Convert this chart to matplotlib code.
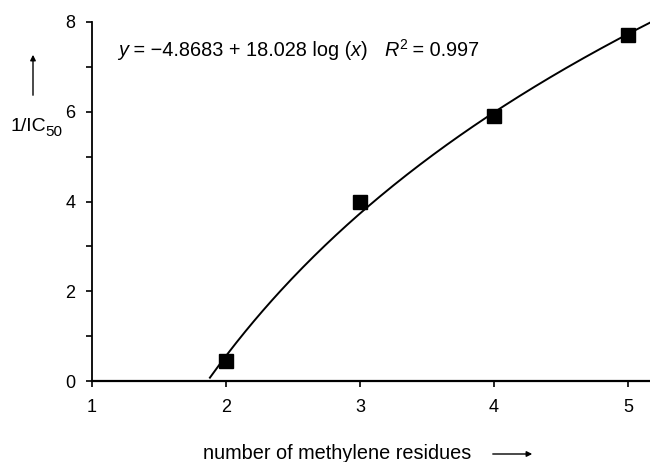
import matplotlib
matplotlib.use("Agg")
import matplotlib.pyplot as plt
from matplotlib.patches import FancyArrowPatch
import numpy as np

plt.rcParams['font.family'] = ['Liberation Sans', 'DejaVu Sans']

# data
x_points = [2, 3, 4, 5]
y_points = [0.45, 4.0, 5.9, 7.7]
fit_intercept = -4.8683
fit_slope = 18.028
fit_r2 = 0.997
x_ticks = [1, 2, 3, 4, 5]
y_ticks = [0, 2, 4, 6, 8]
y_minor = [1, 3, 5, 7]

W, H = 650, 462
fig = plt.figure(figsize=(6.5, 4.62), dpi=100)
ax = fig.add_axes([92 / W, 1 - 381 / H, 1 - 92 / W, (381 - 22) / H])
ax.set_xlim(1, 1 + (650 - 92) / 134.0)
ax.set_ylim(0, 8)

xf = np.linspace(1.88, 1 + (650 - 92) / 134.0, 200)
yf = fit_intercept + fit_slope * np.log10(xf)
ax.plot(xf, yf, color='black', lw=1.4, clip_on=False)
ax.plot(x_points, y_points, 's', color='black', ms=10.5, clip_on=False, zorder=5)

for s in ['top', 'right']:
    ax.spines[s].set_visible(False)
ax.spines['left'].set_linewidth(1.3)
ax.spines['bottom'].set_linewidth(1.6)

ax.set_xticks(x_ticks)
ax.set_yticks(y_ticks)
ax.set_yticks(y_minor, minor=True)
ax.tick_params(axis='both', labelsize=13, width=1.2, length=4, direction='out')
ax.tick_params(axis='y', which='minor', width=1.2, length=4)
ax.tick_params(axis='x', pad=9)
ax.tick_params(axis='y', pad=8)

renderer = fig.canvas.get_renderer()


def chain(pieces, x0, y0):
    x = x0
    for txt, style, size, dy in pieces:
        t = fig.text(x / W, 1 - (y0 + dy) / H, txt, fontsize=size, style=style,
                     ha='left', va='baseline')
        bb = t.get_window_extent(renderer)
        x = bb.x1
    return x


eq_pieces = [
    ('y', 'italic', 14.3, 0),
    (' = \u22124.8683 + 18.028 log (', 'normal', 14.3, 0),
    ('x', 'italic', 14.3, 0),
    (')   ', 'normal', 14.3, 0),
    ('R', 'italic', 14.3, 0),
    ('2', 'normal', 10, -7),
    (' = %.3f' % fit_r2, 'normal', 14.3, 0),
]
chain(eq_pieces, 118, 56)

chain([('1/IC', 'normal', 14, 0), ('50', 'normal', 11, 5)], 10, 131)
fig.add_artist(FancyArrowPatch((33 / W, 1 - 98 / H), (33 / W, 1 - 52 / H),
               transform=fig.transFigure, arrowstyle='-|>', mutation_scale=8,
               color='black', lw=1.0))

fig.text(203 / W, 1 - 459 / H, 'number of methylene residues', fontsize=14.3,
         ha='left', va='baseline')
fig.add_artist(FancyArrowPatch((490 / W, 1 - 454 / H), (535 / W, 1 - 454 / H),
               transform=fig.transFigure, arrowstyle='-|>', mutation_scale=8,
               color='black', lw=1.0))

fig.savefig('out.png', dpi=100)
